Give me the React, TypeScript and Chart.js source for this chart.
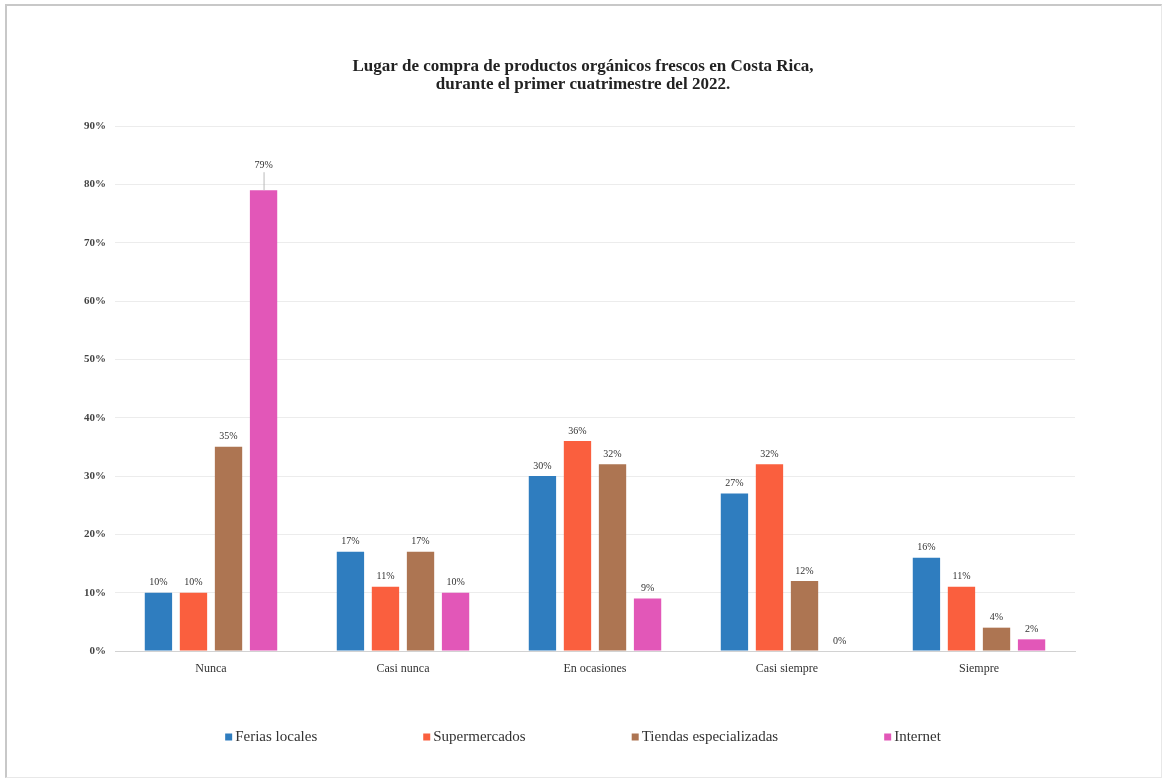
import React, { useEffect, useRef } from "react";
import { Chart, registerables } from "chart.js";

Chart.register(...registerables);

const titleLines = [
  "Lugar de compra de productos orgánicos frescos en Costa Rica,",
  "durante el primer cuatrimestre del 2022.",
];
const categories = ["Nunca", "Casi nunca", "En ocasiones", "Casi siempre", "Siempre"];
const seriesNames = ["Ferias locales", "Supermercados", "Tiendas especializadas", "Internet"];
const feriasLocales = [10, 17, 30, 27, 16];
const supermercados = [10, 11, 36, 32, 11];
const tiendasEspecializadas = [35, 17, 32, 12, 4];
const internet = [79, 10, 9, 0, 2];
const seriesColors = ["#2f7dbf", "#fa5f3e", "#ad7552", "#e257b8"];
const yTicks = [0, 10, 20, 30, 40, 50, 60, 70, 80, 90];

const SERIF = "'Liberation Serif', 'DejaVu Serif', serif";

const valueLabelPlugin = {
  id: "valueLabels",
  afterDatasetsDraw(chart: any) {
    const ctx = chart.ctx;
    ctx.save();
    ctx.font = `10px ${SERIF}`;
    ctx.fillStyle = "#333";
    ctx.textAlign = "center";
    ctx.textBaseline = "bottom";
    chart.data.datasets.forEach((ds: any, di: number) => {
      const meta = chart.getDatasetMeta(di);
      meta.data.forEach((bar: any, i: number) => {
        const v = ds.data[i];
        const callout = di === 3 && i === 0;
        if (callout) {
          ctx.strokeStyle = "#bbb";
          ctx.lineWidth = 1;
          ctx.beginPath();
          ctx.moveTo(bar.x + 0.5, bar.y);
          ctx.lineTo(bar.x + 0.5, bar.y - 18);
          ctx.stroke();
          ctx.fillText(v + "%", bar.x, bar.y - 20);
        } else {
          ctx.fillText(v + "%", bar.x, bar.y - 5);
        }
      });
    });
    ctx.restore();
  },
};

const legendPlugin = {
  id: "spreadLegend",
  afterDraw(chart: any) {
    const ctx = chart.ctx;
    ctx.save();
    ctx.font = `15px ${SERIF}`;
    ctx.textBaseline = "middle";
    const box = 7;
    const gapBoxText = 3;
    const gap = 106;
    const widths = seriesNames.map((n) => box + gapBoxText + ctx.measureText(n).width);
    const total = widths.reduce((a, b) => a + b, 0) + gap * (seriesNames.length - 1);
    let x = (chart.width - total) / 2;
    const y = chart.chartArea.bottom + 86;
    seriesNames.forEach((n, i) => {
      ctx.fillStyle = seriesColors[i];
      ctx.fillRect(x, y - box / 2, box, box);
      ctx.fillStyle = "#333";
      ctx.fillText(n, x + box + gapBoxText, y);
      x += widths[i] + gap;
    });
    ctx.restore();
  },
};

export default function App() {
  const ref = useRef<HTMLCanvasElement | null>(null);

  useEffect(() => {
    document.body.style.margin = "0";
    const canvas = ref.current;
    if (!canvas) return;
    const values = [feriasLocales, supermercados, tiendasEspecializadas, internet];
    const chart = new Chart(canvas, {
      type: "bar",
      data: {
        labels: categories,
        datasets: seriesNames.map((name, i) => ({
          label: name,
          data: values[i],
          backgroundColor: seriesColors[i],
          borderWidth: 0,
          categoryPercentage: 0.73,
          barPercentage: 0.78,
          yAxisID: "y",
        })),
      },
      options: {
        animation: false,
        responsive: false,
        maintainAspectRatio: false,
        layout: { padding: 0 },
        plugins: {
          legend: { display: false },
          tooltip: { enabled: false },
          title: {
            display: true,
            text: titleLines,
            color: "#222",
            font: { family: SERIF, size: 17, weight: "bold", lineHeight: 1.06 },
            padding: { top: 58, bottom: 32 },
          },
        },
        scales: {
          x: {
            grid: { display: false, drawTicks: false },
            border: { display: true, color: "#d2d2d2", width: 1 },
            ticks: { color: "#333", font: { family: SERIF, size: 12 }, padding: 11 },
            afterFit: (s: any) => {
              s.height = 131;
            },
          },
          y: {
            min: 0,
            max: 90,
            afterBuildTicks: (s: any) => {
              s.ticks = yTicks.map((v) => ({ value: v }));
            },
            grid: { color: "#ececec", drawTicks: false },
            border: { display: false },
            ticks: {
              color: "#444",
              font: { family: SERIF, size: 11, weight: "bold" },
              padding: 9,
              callback: (v: any) => v + "%",
            },
            afterFit: (s: any) => {
              s.width = 115;
            },
          },
          yRight: {
            position: "right",
            min: 0,
            max: 90,
            grid: { display: false, drawTicks: false },
            border: { display: false },
            ticks: { display: false },
            afterFit: (s: any) => {
              s.width = 91;
            },
          },
        },
      },
      plugins: [valueLabelPlugin, legendPlugin],
    });
    return () => chart.destroy();
  }, []);

  return (
    <div style={{ position: "relative", width: 1166, height: 782, background: "#fff" }}>
      <canvas ref={ref} width={1166} height={782} style={{ display: "block" }} />
      <div
        style={{
          position: "absolute",
          left: 5,
          top: 4,
          width: 1157,
          height: 774,
          boxSizing: "border-box",
          borderLeft: "2px solid #c8c8c8",
          borderTop: "2px solid #c8c8c8",
          borderRight: "1px solid #e8e8e8",
          borderBottom: "1px solid #e8e8e8",
          pointerEvents: "none",
        }}
      />
    </div>
  );
}
